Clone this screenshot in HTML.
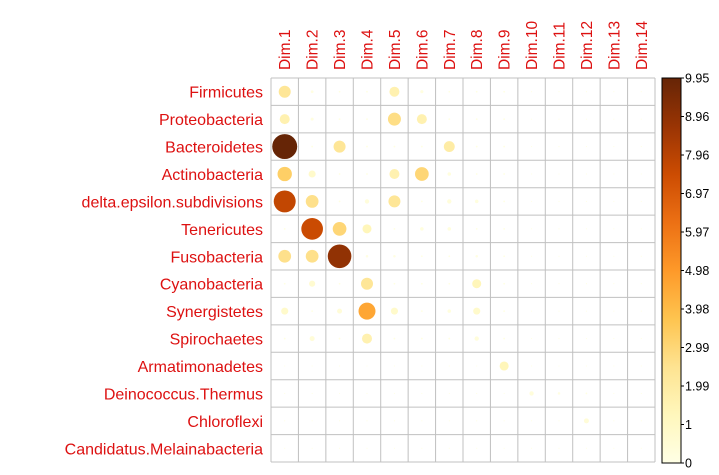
<!DOCTYPE html>
<html><head><meta charset="utf-8"><style>
html,body{margin:0;padding:0;background:#fff;}
svg{display:block;font-family:"Liberation Sans",Arial,sans-serif;}
</style></head><body>
<svg id="chart" width="719" height="475" viewBox="0 0 719 475"></svg>
<script>
const rows = ["Firmicutes","Proteobacteria","Bacteroidetes","Actinobacteria","delta.epsilon.subdivisions","Tenericutes","Fusobacteria","Cyanobacteria","Synergistetes","Spirochaetes","Armatimonadetes","Deinococcus.Thermus","Chloroflexi","Candidatus.Melainabacteria"];
const cols = ["Dim.1","Dim.2","Dim.3","Dim.4","Dim.5","Dim.6","Dim.7","Dim.8","Dim.9","Dim.10","Dim.11","Dim.12","Dim.13","Dim.14"];
const values = [
 [2.3,0.12,0.05,0.05,1.6,0.15,0.05,0.05,0.05,0.02,0.02,0.02,0.02,0.02],
 [1.6,0.15,0.05,0.05,2.7,1.6,0.05,0.05,0.05,0.02,0.02,0.02,0.02,0.02],
 [9.95,0.05,2.3,0.05,0.05,0.05,1.9,0.05,0.05,0.02,0.02,0.02,0.02,0.02],
 [3.3,0.8,0.05,0.05,1.6,3.0,0.2,0.05,0.05,0.02,0.02,0.02,0.02,0.02],
 [7.7,2.6,0.05,0.3,2.3,0.05,0.3,0.2,0.05,0.02,0.02,0.02,0.02,0.02],
 [0.05,7.5,3.0,1.3,0.05,0.2,0.2,0.05,0.05,0.02,0.02,0.02,0.02,0.02],
 [2.6,2.6,8.9,0.1,0.1,0.05,0.05,0.1,0.05,0.02,0.02,0.02,0.02,0.02],
 [0.05,0.6,0.05,2.3,0.05,0.05,0.05,1.3,0.05,0.02,0.02,0.02,0.02,0.02],
 [0.8,0.05,0.4,4.6,0.8,0.05,0.2,0.8,0.05,0.02,0.02,0.02,0.02,0.02],
 [0.05,0.4,0.05,1.6,0.05,0.05,0.05,0.3,0.05,0.02,0.02,0.02,0.02,0.02],
 [0.02,0.02,0.02,0.02,0.02,0.02,0.02,0.02,1.3,0.02,0.02,0.02,0.02,0.02],
 [0.02,0.02,0.02,0.02,0.02,0.02,0.02,0.02,0.02,0.3,0.1,0.05,0.02,0.02],
 [0.02,0.02,0.02,0.02,0.02,0.02,0.02,0.02,0.02,0.02,0.02,0.4,0.02,0.02],
 [0.02,0.02,0.02,0.02,0.02,0.02,0.02,0.02,0.02,0.02,0.02,0.02,0.02,0.02]
];
const tickLabels = ["0","1","1.99","2.99","3.98","4.98","5.97","6.97","7.96","8.96","9.95"];
const vmax = 9.95;

const NS="http://www.w3.org/2000/svg";
const svg=document.getElementById('chart');
const gx0=271, gy0=78, gx1=655, gy1=462;
const cw=(gx1-gx0)/cols.length, ch=(gy1-gy0)/rows.length;
const xc=j=>gx0+cw*(j+0.5), yc=i=>gy0+ch*(i+0.5);
const stops=["#FFFFE5","#FFF7BC","#FEE391","#FEC44F","#FE9929","#EC7014","#CC4C02","#993404","#662506"];
function hex(h){return [1,3,5].map(k=>parseInt(h.substr(k,2),16));}
function color(v){let t=Math.max(0,Math.min(1,v/vmax))*(stops.length-1);let k=Math.min(Math.floor(t),stops.length-2);let f=t-k;const a=hex(stops[k]),b=hex(stops[k+1]);return "rgb("+a.map((c,q)=>Math.round(c+(b[q]-c)*f)).join(",")+")";}
function el(tag,attrs){const e=document.createElementNS(NS,tag);for(const k in attrs)e.setAttribute(k,attrs[k]);svg.appendChild(e);return e;}

for(let i=0;i<=rows.length;i++){const l=el('line',{x1:gx0,x2:gx1,y1:gy0+ch*i,y2:gy0+ch*i,stroke:"#c0c0c0","stroke-width":1});

}
for(let j=0;j<=cols.length;j++){const l=el('line',{x1:gx0+cw*j,x2:gx0+cw*j,y1:gy0,y2:gy1,stroke:"#c0c0c0","stroke-width":1});

}

const rmax=ch*0.455;
values.forEach((row,i)=>row.forEach((v,j)=>{
 const c=el('circle',{cx:xc(j),cy:yc(i),r:rmax*Math.sqrt(v/vmax),fill:color(v)});
 
 
}));

rows.forEach((r,i)=>{const t=el('text',{x:263,y:yc(i)+6,'text-anchor':'end','font-size':16,fill:"#DD1111"});t.textContent=r;

});
cols.forEach((c,j)=>{const x=xc(j)+5.5,y=70;const t=el('text',{x:x,y:y,transform:`rotate(-90 ${x} ${y})`,'font-size':15.5,fill:"#DD1111"});t.textContent=c;

});

const bx=662,bw=19,by0=78,by1=463;
const defs=el('defs',{});
const lg=document.createElementNS(NS,'linearGradient');lg.setAttribute('id','cg');lg.setAttribute('x1','0');lg.setAttribute('y1','1');lg.setAttribute('x2','0');lg.setAttribute('y2','0');
stops.forEach((s,k)=>{const st=document.createElementNS(NS,'stop');st.setAttribute('offset',k/(stops.length-1));st.setAttribute('stop-color',s);lg.appendChild(st);});
defs.appendChild(lg);
const bar=el('rect',{x:bx,y:by0,width:bw,height:by1-by0,fill:"url(#cg)",stroke:"#000","stroke-width":1});


tickLabels.forEach((lab,k)=>{const y=by1-(by1-by0)*k/(tickLabels.length-1);
 const tk=el('line',{x1:bx+bw,x2:bx+bw+3,y1:y,y2:y,stroke:"#000"});
 
 
 const t=el('text',{x:bx+bw+4,y:y+4.5,'font-size':12.5,fill:"#000"});t.textContent=lab;
 
 });
</script>
</body></html>
